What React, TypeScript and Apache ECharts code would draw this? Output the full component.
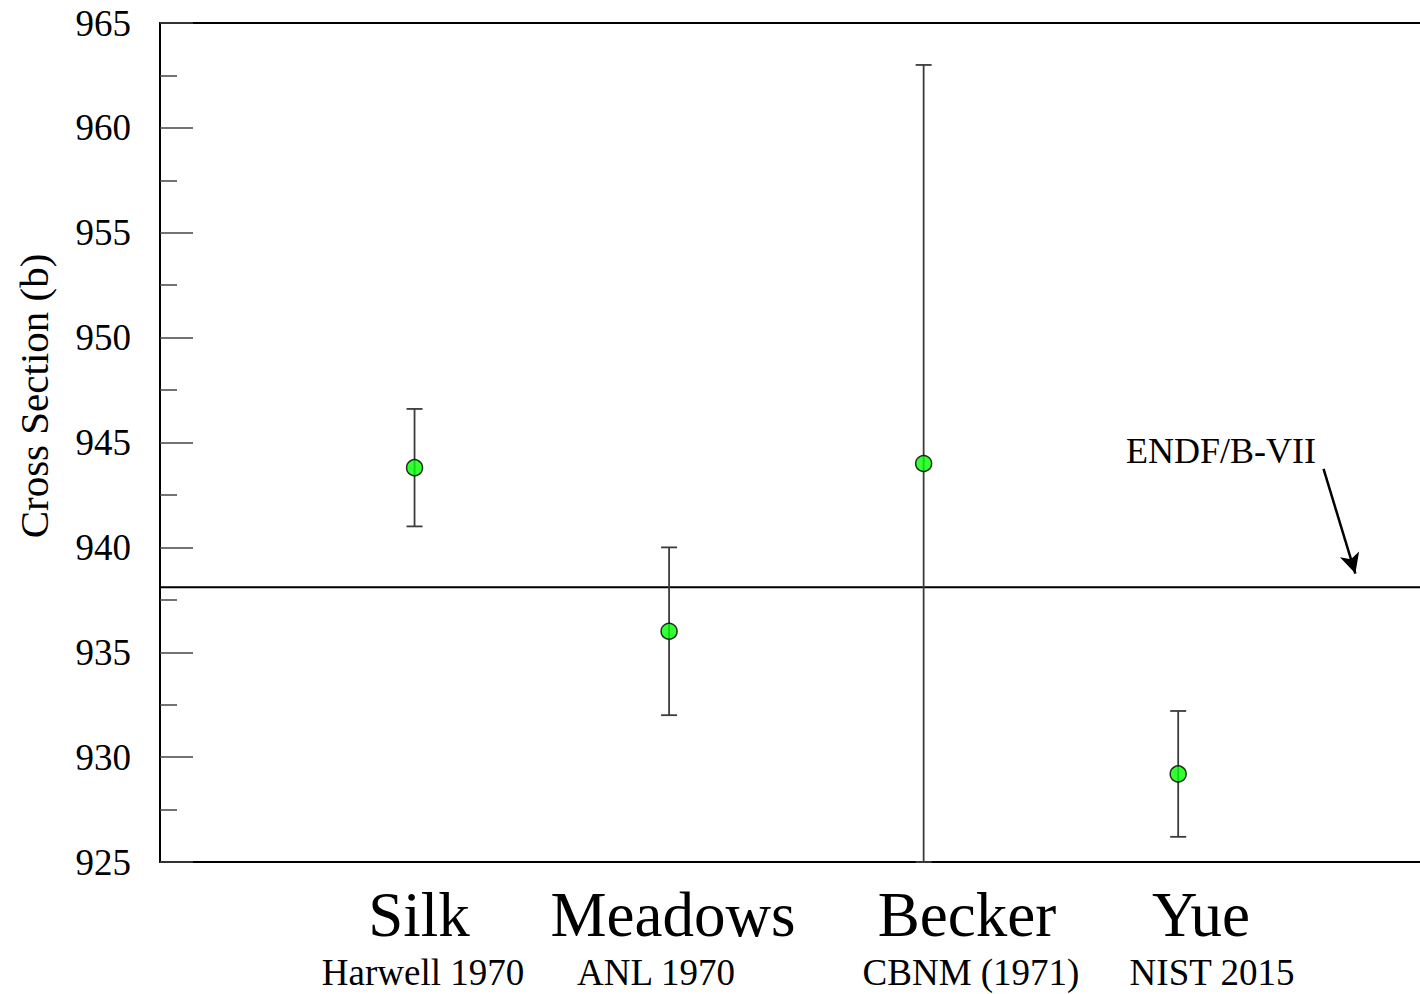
import React, { useEffect, useRef } from "react";
import * as echarts from "echarts";

// Thermal cross-section measurements (barns) with 1-sigma uncertainties
const experiments = ["Silk", "Meadows", "Becker", "Yue"];
const labs = ["Harwell 1970", "ANL 1970", "CBNM (1971)", "NIST 2015"];
const xIndex = [1, 2, 3, 4];
const crossSection = [943.8, 936.0, 944.0, 929.2];
const uncertainty = [2.8, 4.0, 19.0, 3.0];
const endfValue = 938.1;
const yTicks = [925, 930, 935, 940, 945, 950, 955, 960, 965];

const FONT = "'Liberation Serif', 'Times New Roman', serif";

export default function App() {
  const ref = useRef<HTMLDivElement>(null);

  useEffect(() => {
    if (!ref.current) return;
    const chart = echarts.init(ref.current, undefined, { renderer: "svg" });

    const points = xIndex.map((x, i) => [x, crossSection[i]]);
    const bars = xIndex.map((x, i) => [
      x,
      crossSection[i] - uncertainty[i],
      crossSection[i] + uncertainty[i],
    ]);

    // text placement under each measurement (pixel centres)
    const nameX = [419, 673, 967, 1201];
    const labX = [423, 656, 971, 1212];

    const graphics: any[] = [];
    experiments.forEach((name, i) => {
      graphics.push({
        type: "text",
        x: nameX[i],
        y: 915,
        style: {
          text: name,
          font: `63px ${FONT}`,
          fill: "#000",
          align: "center",
          verticalAlign: "middle",
        },
      });
      graphics.push({
        type: "text",
        x: labX[i],
        y: 972,
        style: {
          text: labs[i],
          font: `37px ${FONT}`,
          fill: "#000",
          align: "center",
          verticalAlign: "middle",
        },
      });
    });
    graphics.push({
      type: "text",
      x: 34,
      y: 396,
      rotation: Math.PI / 2,
      style: {
        text: "Cross Section (b)",
        font: `41px ${FONT}`,
        fill: "#000",
        align: "center",
        verticalAlign: "middle",
      },
    });
    graphics.push({
      type: "text",
      x: 1126,
      y: 451,
      style: {
        text: "ENDF/B-VII",
        font: `36px ${FONT}`,
        fill: "#000",
        align: "left",
        verticalAlign: "middle",
      },
    });

    chart.setOption({
      animation: false,
      backgroundColor: "#fff",
      grid: { left: 160, right: 0, top: 23, bottom: 132 },
      xAxis: [
        {
          type: "value",
          min: 0,
          max: 4.95,
          position: "bottom",
          axisLine: { show: true, lineStyle: { color: "#000", width: 2 } },
          axisTick: { show: false },
          axisLabel: { show: false },
          splitLine: { show: false },
        },
        {
          type: "value",
          min: 0,
          max: 4.95,
          position: "top",
          axisLine: { show: true, lineStyle: { color: "#000", width: 2 } },
          axisTick: { show: false },
          axisLabel: { show: false },
          splitLine: { show: false },
        },
      ],
      yAxis: {
        type: "value",
        min: yTicks[0],
        max: yTicks[yTicks.length - 1],
        interval: 5,
        axisLine: { show: true, lineStyle: { color: "#000", width: 2 } },
        axisTick: {
          show: true,
          inside: true,
          length: 33,
          lineStyle: { color: "#444", width: 1.5 },
        },
        minorTick: {
          show: true,
          splitNumber: 2,
          length: 17,
          lineStyle: { color: "#444", width: 1.5 },
        },
        axisLabel: {
          color: "#000",
          fontFamily: FONT,
          fontSize: 37,
          margin: 29,
        },
        splitLine: { show: false },
      },
      series: [
        {
          type: "line",
          data: [
            [-0.012, endfValue],
            [4.95, endfValue],
          ],
          symbol: "none",
          clip: false,
          lineStyle: { color: "#000", width: 2 },
          z: 1,
          markLine: {
            silent: true,
            symbol: ["none", "arrow"],
            symbolSize: [15, 20],
            label: { show: false },
            lineStyle: { color: "#000", width: 2.5, type: "solid" },
            data: [
              [
                { coord: [4.571, 943.74] },
                { coord: [4.696, 938.75] },
              ],
            ],
          },
        },
        {
          type: "custom",
          data: bars,
          z: 2,
          renderItem: (params: any, api: any) => {
            const x = api.value(0);
            const top = api.coord([x, api.value(2)]);
            const bot = api.coord([x, api.value(1)]);
            const hw = 8;
            const style = { stroke: "#3c3c3c", lineWidth: 1.8 };
            return {
              type: "group",
              children: [
                { type: "line", shape: { x1: top[0], y1: top[1], x2: bot[0], y2: bot[1] }, style },
                { type: "line", shape: { x1: top[0] - hw, y1: top[1], x2: top[0] + hw, y2: top[1] }, style },
                { type: "line", shape: { x1: bot[0] - hw, y1: bot[1], x2: bot[0] + hw, y2: bot[1] }, style },
              ],
            };
          },
        },
        {
          type: "scatter",
          data: points,
          symbol: "circle",
          symbolSize: 16,
          z: 3,
          itemStyle: { color: "#00ff00", borderColor: "#000", borderWidth: 1.5 },
        },
      ],
      graphic: graphics,
    });

    return () => chart.dispose();
  }, []);

  return (
    <div
      ref={ref}
      style={{ position: "absolute", left: 0, top: 0, width: 1420, height: 994 }}
    />
  );
}
